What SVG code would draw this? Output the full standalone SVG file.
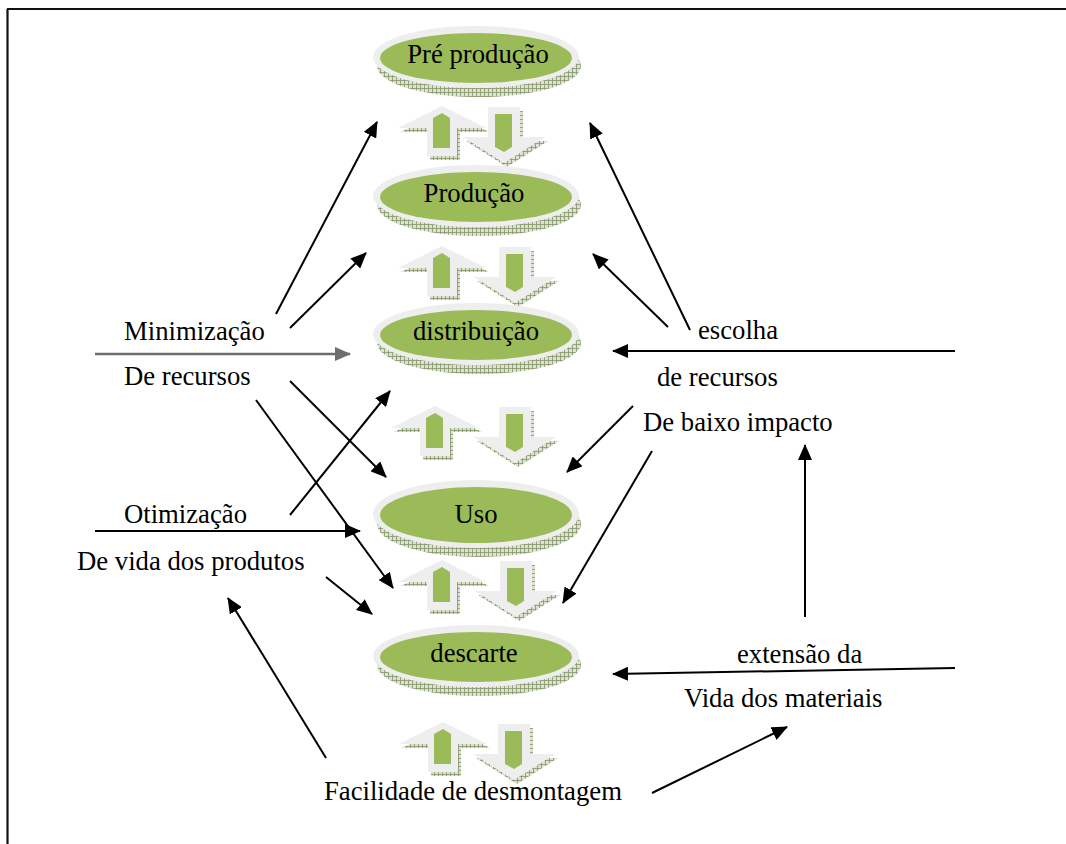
<svg xmlns="http://www.w3.org/2000/svg" width="1066" height="844" viewBox="0 0 1066 844">
<style>
.t{font-family:"Liberation Serif","Times New Roman",serif;font-size:26.7px;fill:#000}
.c{stroke:#000;stroke-width:2;fill:none;marker-end:url(#ah)}
.g{stroke:#6e6e6e;stroke-width:2.5;fill:none;marker-end:url(#ahg)}
.rim{fill:#eeeeee}
.grn{fill:#9bbb59}
.sh{fill:url(#hatch)}
</style>
<defs>
<pattern id="hatch" width="4" height="4" patternUnits="userSpaceOnUse">
<rect width="4" height="4" fill="#dde2d0"/>
<path d="M0 0.5H4M0.5 0V4" stroke="#84956a" stroke-width="0.8"/>
</pattern>
<marker id="ah" markerWidth="16" markerHeight="14" refX="15" refY="7" orient="auto" markerUnits="userSpaceOnUse">
<path d="M0 0L16 7L0 14z" fill="#000"/>
</marker>
<marker id="ahg" markerWidth="16" markerHeight="14" refX="15" refY="7" orient="auto" markerUnits="userSpaceOnUse">
<path d="M0 0L16 7L0 14z" fill="#6e6e6e"/>
</marker>
<g id="up">
<polygon class="sh" transform="translate(3,4)" points="0,0 44,22 15,22 15,50 -15,50 -15,22 -44,22"/>
<polygon class="rim" points="0,0 44,22 15,22 15,50 -15,50 -15,22 -44,22"/>
<polygon class="grn" points="0,7 8,12 8,42 -9,42 -9,12"/>
</g>
<g id="down">
<polygon class="sh" transform="translate(3,4)" points="-16,0 16,0 16,30 41,30 0,56 -41,30 -16,30"/>
<polygon class="rim" points="-16,0 16,0 16,30 41,30 0,56 -41,30 -16,30"/>
<polygon class="grn" points="-9,7 8,7 8,40 0,45 -9,40"/>
</g>
</defs>
<rect width="1066" height="844" fill="#fff"/>
<path d="M7 9H1066M7.5 9V844" stroke="#111" stroke-width="2.2" fill="none"/>

<g id="arrows-pairs">
<use href="#up" x="442" y="106"/><use href="#down" x="504" y="107"/>
<use href="#up" x="442" y="246"/><use href="#down" x="515" y="247"/>
<use href="#up" x="435" y="406"/><use href="#down" x="515" y="407"/>
<use href="#up" x="442" y="560"/><use href="#down" x="516" y="561"/>
<use href="#up" x="443" y="722"/><use href="#down" x="514" y="724"/>
</g>

<g id="n-pre">
<ellipse class="sh" cx="479" cy="66" rx="102" ry="31"/>
<ellipse class="rim" cx="476" cy="57" rx="103" ry="31"/>
<ellipse class="grn" cx="476" cy="58" rx="96" ry="25"/>
<text class="t" x="478" y="63" text-anchor="middle">Pré produção</text>
</g>
<g id="n-producao">
<ellipse class="sh" cx="479" cy="205" rx="102" ry="31"/>
<ellipse class="rim" cx="476" cy="196" rx="103" ry="31"/>
<ellipse class="grn" cx="476" cy="197" rx="96" ry="25"/>
<text class="t" x="474" y="202" text-anchor="middle">Produção</text>
</g>
<g id="n-distribuicao">
<ellipse class="sh" cx="479" cy="343" rx="102" ry="31"/>
<ellipse class="rim" cx="476" cy="334" rx="103" ry="31"/>
<ellipse class="grn" cx="476" cy="335" rx="96" ry="25"/>
<text class="t" x="476" y="340" text-anchor="middle">distribuição</text>
</g>
<g id="n-uso">
<ellipse class="sh" cx="479" cy="524" rx="102" ry="33"/>
<ellipse class="rim" cx="476" cy="514" rx="103" ry="34"/>
<ellipse class="grn" cx="476" cy="515" rx="96" ry="28"/>
<text class="t" x="476" y="523" text-anchor="middle">Uso</text>
</g>
<g id="n-descarte">
<ellipse class="sh" cx="479" cy="665" rx="102" ry="31"/>
<ellipse class="rim" cx="476" cy="656" rx="103" ry="31"/>
<ellipse class="grn" cx="476" cy="657" rx="96" ry="25"/>
<text class="t" x="474" y="662" text-anchor="middle">descarte</text>
</g>

<g id="labels">
<text class="t" x="124" y="340">Minimização</text>
<text class="t" x="124" y="385">De recursos</text>
<text class="t" x="124" y="523">Otimização</text>
<text class="t" x="77" y="570">De vida dos produtos</text>
<text class="t" x="698" y="339">escolha</text>
<text class="t" x="657" y="386">de recursos</text>
<text class="t" x="643" y="431">De baixo impacto</text>
<text class="t" x="737" y="663">extensão da</text>
<text class="t" x="684" y="707">Vida dos materiais</text>
<text class="t" x="324" y="800">Facilidade de desmontagem</text>
</g>

<g id="connectors">
<line class="c" x1="276" y1="314" x2="377" y2="122"/>
<line class="c" x1="290" y1="328" x2="366" y2="253"/>
<line class="g" x1="95" y1="354" x2="350" y2="354"/>
<line class="c" x1="290" y1="381" x2="386" y2="477"/>
<line class="c" x1="256" y1="400" x2="393" y2="588"/>
<line class="c" x1="290" y1="515" x2="390" y2="391"/>
<line class="c" x1="95" y1="531" x2="360" y2="531"/>
<line class="c" x1="326" y1="577" x2="372" y2="614"/>
<line class="c" x1="326" y1="758" x2="228" y2="598"/>
<line class="c" x1="668" y1="327" x2="593" y2="254"/>
<line class="c" x1="690" y1="330" x2="590" y2="123"/>
<line class="c" x1="955" y1="351" x2="613" y2="351"/>
<line class="c" x1="633" y1="406" x2="567" y2="472"/>
<line class="c" x1="652" y1="451" x2="563" y2="603"/>
<line class="c" x1="805" y1="617" x2="805" y2="445"/>
<line class="c" x1="955" y1="668" x2="613" y2="674"/>
<line class="c" x1="652" y1="793" x2="787" y2="727"/>
</g>
</svg>
